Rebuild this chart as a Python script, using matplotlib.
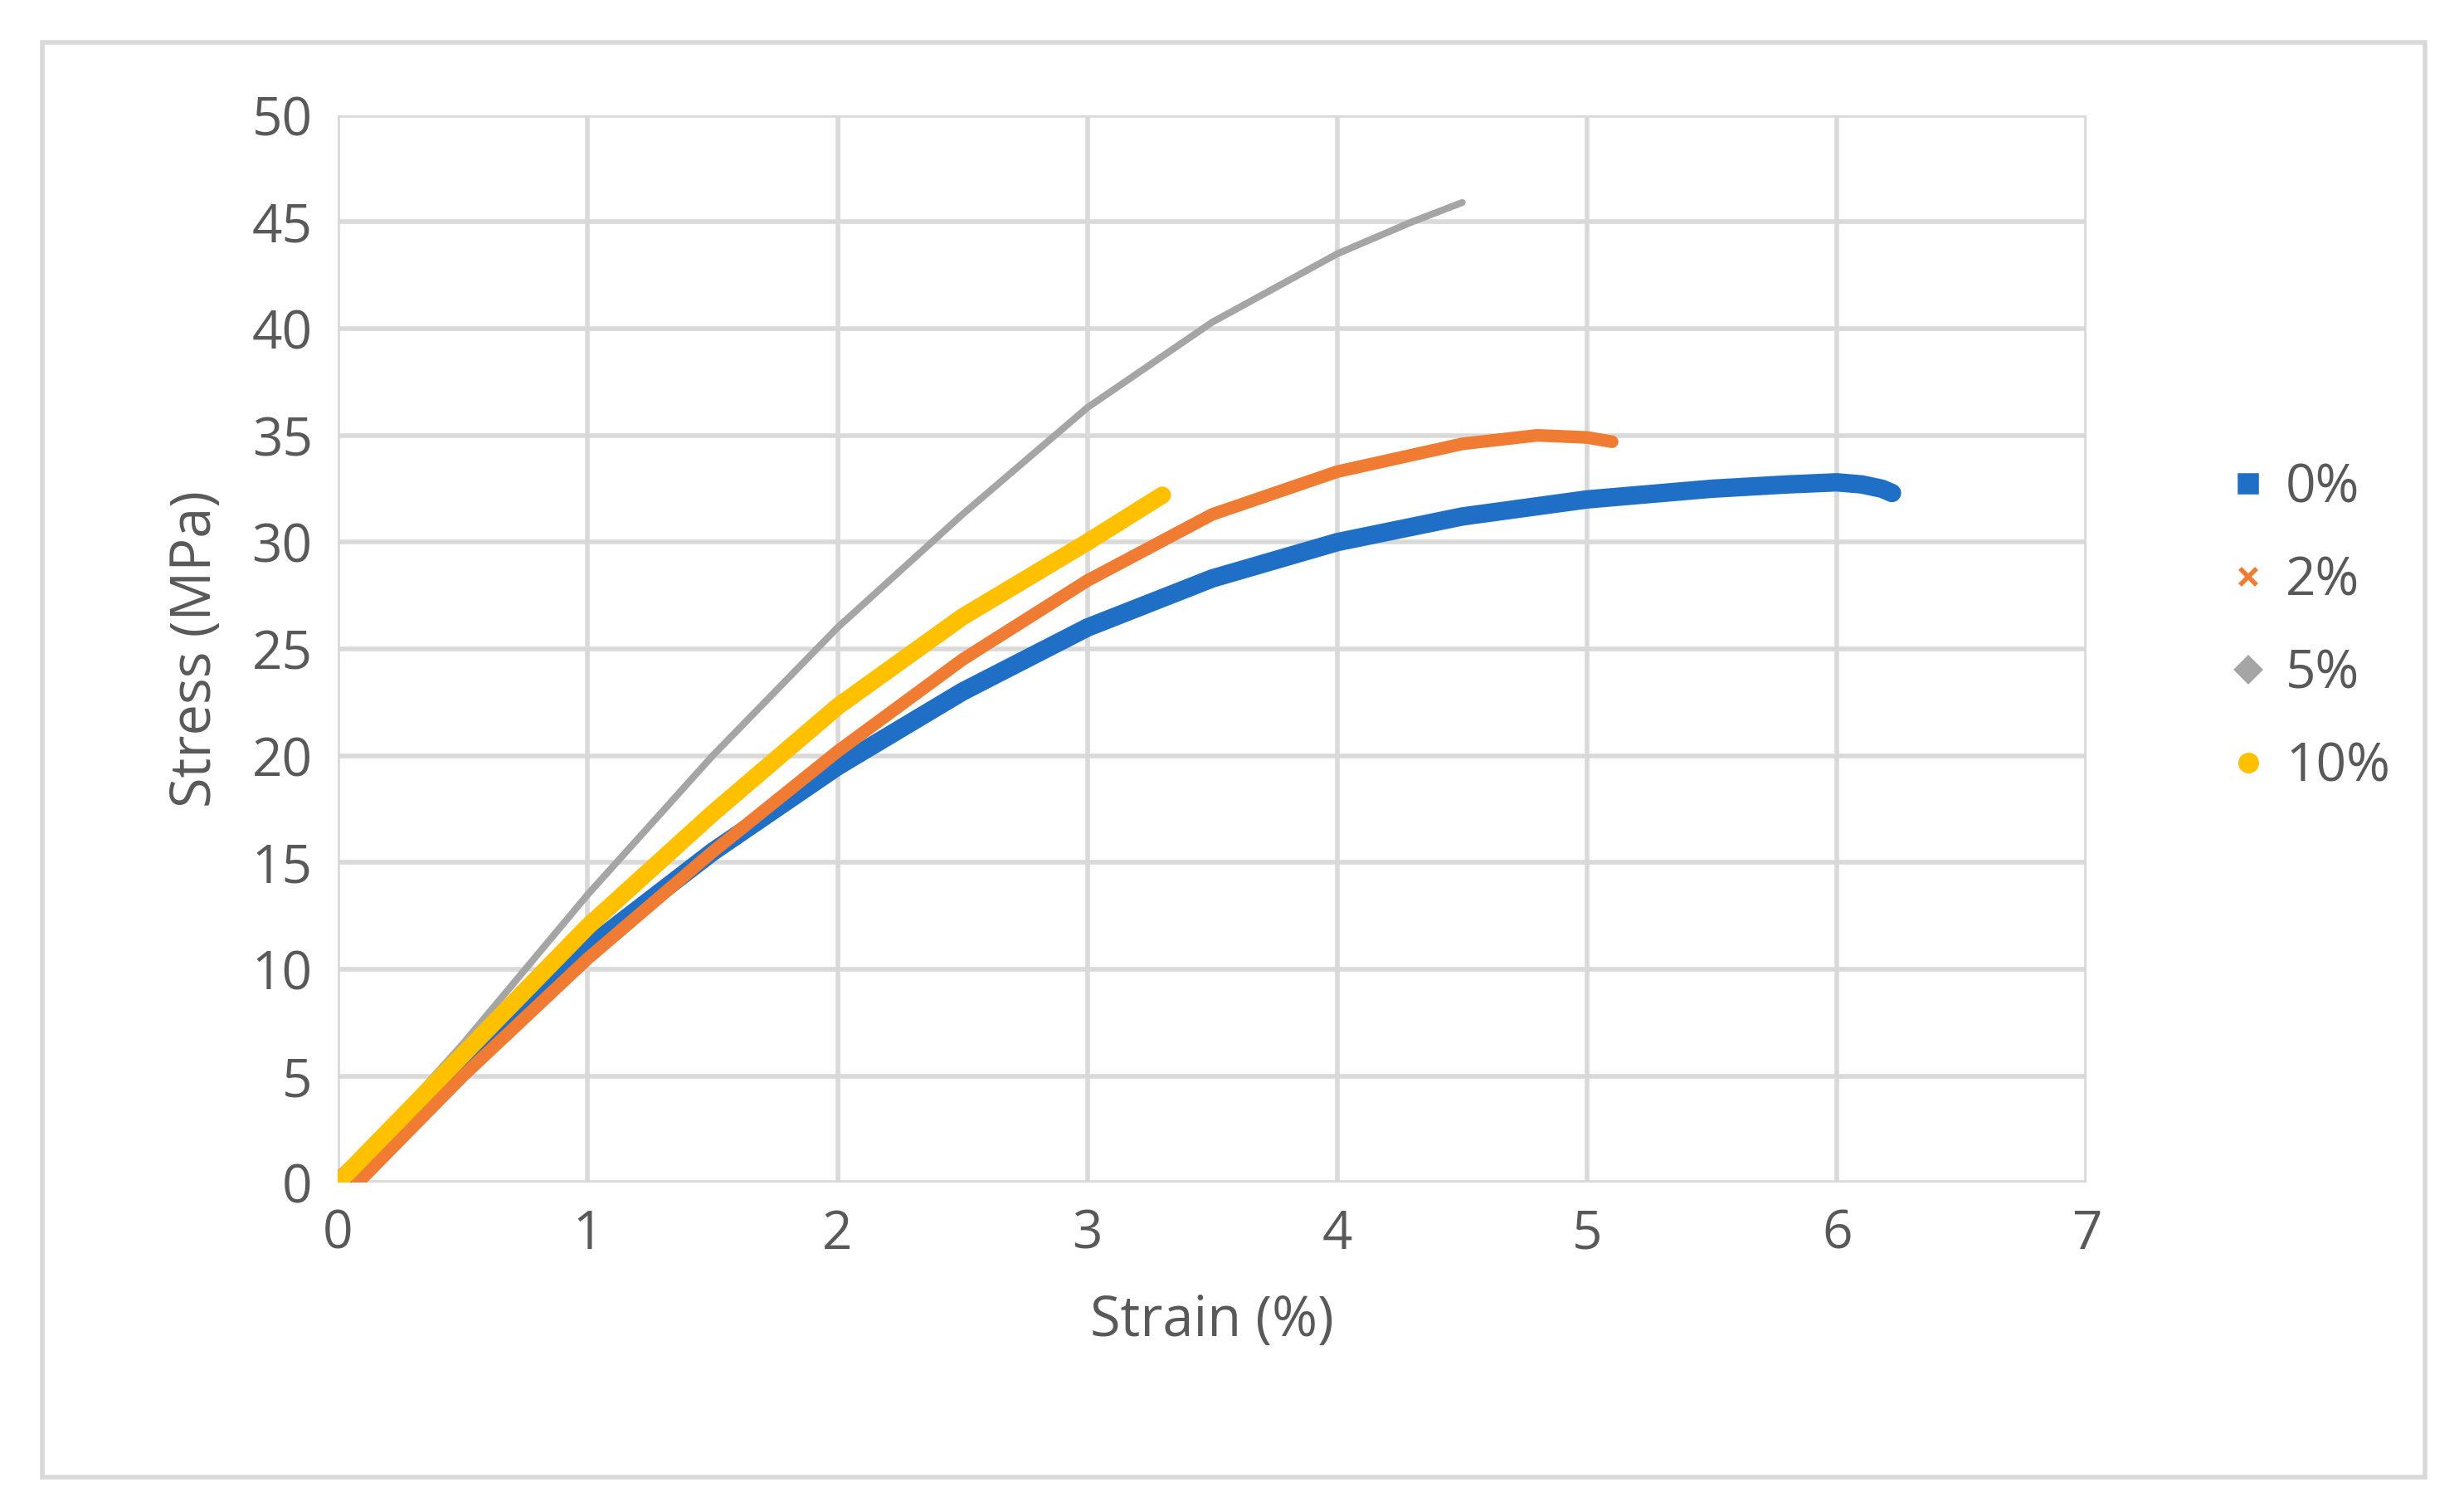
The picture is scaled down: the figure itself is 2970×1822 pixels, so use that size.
import matplotlib
matplotlib.use('Agg')
import matplotlib.pyplot as plt
from matplotlib.patches import Rectangle
from matplotlib.lines import Line2D

plt.rcParams['font.family'] = ['Open Sans', 'DejaVu Sans']

# values
x0 = [0, 0.5, 1, 1.5, 2, 2.5, 3, 3.5, 4, 4.5, 5, 5.5, 5.8, 6, 6.1, 6.18, 6.22]
y0 = [0, 5.5, 11, 15.5, 19.5, 23, 26, 28.3, 30, 31.2, 32, 32.5, 32.7, 32.8, 32.7, 32.5, 32.3]
x2 = [0.08, 0.5, 1, 1.5, 2, 2.5, 3, 3.5, 4, 4.5, 4.8, 5.0, 5.1]
y2 = [0, 5, 10.5, 15.5, 20.2, 24.5, 28.2, 31.3, 33.3, 34.6, 35, 34.9, 34.7]
x5 = [0, 0.5, 1, 1.5, 2, 2.5, 3, 3.5, 4, 4.3, 4.5]
y5 = [0, 6.5, 13.5, 20, 26, 31.3, 36.3, 40.3, 43.5, 45, 45.9]
x10 = [0, 0.5, 1, 1.5, 2, 2.5, 3, 3.3]
y10 = [0, 6, 12, 17.3, 22.3, 26.5, 30, 32.2]

labels = ['0%', '2%', '5%', '10%']
colors = ['#1f6fc6', '#f07b32', '#a5a5a5', '#ffc000']
markers = ['s', 'x', 'D', 'o']
widths = [16, 11, 6, 15]

fig = plt.figure(figsize=(29.70, 18.22), dpi=100)
fig.patches.append(Rectangle((27/1568, 1-938/960), (1543-27)/1568, (938-27)/960,
                             transform=fig.transFigure, fill=False, ec='#d9d9d9', lw=4))
ax = fig.add_axes([215/1568, 1-751/960, (1328-215)/1568, (751-73)/960])

for xs, ys, c, w in zip([x0, x2, x5, x10], [y0, y2, y5, y10], colors, widths):
    ax.plot(xs, ys, color=c, lw=w, solid_capstyle='round', solid_joinstyle='round', zorder=3)

ax.set_xlim(0, 7)
ax.set_ylim(0, 50)
ax.set_xticks(range(0, 8))
ax.set_yticks(range(0, 51, 5))
ax.grid(True, color='#d9d9d9', lw=4)
for s in ax.spines.values():
    s.set_visible(False)
ax.tick_params(length=0, labelsize=46, colors='#595959', pad=22)
ax.set_xlabel('Strain (%)', fontsize=48, color='#595959', labelpad=28)
ax.set_ylabel('Stress (MPa)', fontsize=48, color='#595959', labelpad=24)

handles = [Line2D([], [], ls='none', marker=m, color=c, markersize=14, mew=4)
           for m, c in zip(markers, colors)]
ax.legend(handles, labels, loc='center left', bbox_to_anchor=(1.05, 0.52), frameon=False,
          fontsize=46, labelcolor='#595959', handletextpad=0.2, labelspacing=0.75,
          handlelength=1.0)

fig.savefig('out.png', dpi=100)
